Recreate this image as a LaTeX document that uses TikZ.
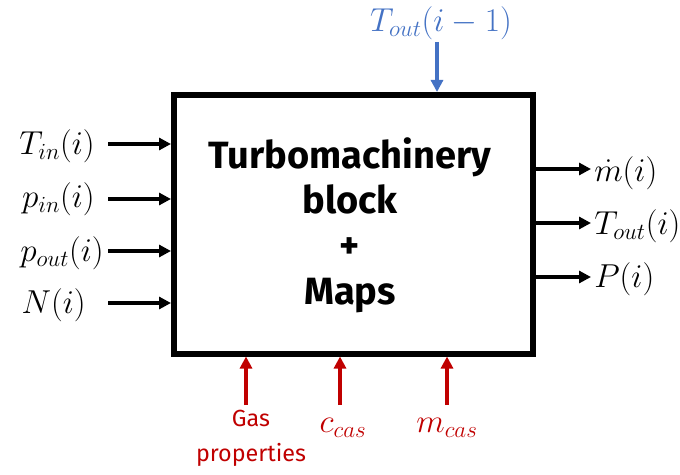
\documentclass[tikz,border=0pt]{standalone}
\usepackage{fontspec}
\setsansfont{Fira Sans}
\usetikzlibrary{arrows.meta}
\definecolor{myblue}{HTML}{4472C4}
\definecolor{myred}{HTML}{C00000}
\newcommand{\redtxtfont}{\sffamily\fontsize{17.5}{26}\selectfont}
\tikzset{
  inarr/.style={line width=3pt,-{Triangle[length=9pt,width=9pt]}},
  lbl/.style={inner sep=0pt,font=\fontsize{24}{28}\selectfont},
  redlbl/.style={inner sep=0pt,font=\redtxtfont,text=myred,align=center},
}
\begin{document}
\begin{tikzpicture}[x=0.75pt,y=-0.75pt]
\useasboundingbox (0,0) rectangle (680,474);
\node[draw,line width=4.4pt,minimum width=269pt,minimum height=194pt,inner sep=0pt,anchor=north west] (box) at (171,92) {};
\node[font=\sffamily\bfseries\fontsize{28.5}{34}\selectfont,align=center] (title) at (350,225) {Turbomachinery\\block\\+\\Maps};
% left inputs
\coordinate (l1) at (108,144); \coordinate (l2) at (108,199); \coordinate (l3) at (108,251); \coordinate (l4) at (108,303);
\node[lbl,anchor=east] (tin) at (95,146) {$T_{in}(i)$};
\node[lbl,anchor=east] (pin) at (95,199) {$p_{in}(i)$};
\node[lbl,anchor=east] (pout) at (104,253) {$p_{out}(i)$};
\node[lbl,anchor=east] (N) at (86,305) {$N(i)$};
\draw[inarr] (l1) -- (l1 -| box.west);
\draw[inarr] (l2) -- (l2 -| box.west);
\draw[inarr] (l3) -- (l3 -| box.west);
\draw[inarr] (l4) -- (l4 -| box.west);
% right outputs
\coordinate (r1) at (591,169); \coordinate (r2) at (591,223); \coordinate (r3) at (591,277);
\node[lbl,anchor=west] (mdot) at (594,173) {$\dot m(i)$};
\node[lbl,anchor=west] (tout) at (594,226) {$T_{out}(i)$};
\node[lbl,anchor=west] (P) at (594,279) {$P(i)$};
\draw[inarr] (r1 -| box.east) -- (r1);
\draw[inarr] (r2 -| box.east) -- (r2);
\draw[inarr] (r3 -| box.east) -- (r3);
% top
\node[lbl,text=myblue] (tprev) at (441,23) {$T_{out}(i-1)$};
\coordinate (tp) at (437,42);
\draw[inarr,myblue] (tp) -- (tp |- box.north);
% bottom
\node[redlbl] (gas) at (251,438) {Gas\\properties};
\node[lbl,text=myred] (ccas) at (343,428) {$c_{cas}$};
\node[lbl,text=myred] (mcas) at (447,428) {$m_{cas}$};
\coordinate (b1) at (246,405); \coordinate (b2) at (340,405); \coordinate (b3) at (447,405);
\draw[inarr,myred] (b1) -- (b1 |- box.south);
\draw[inarr,myred] (b2) -- (b2 |- box.south);
\draw[inarr,myred] (b3) -- (b3 |- box.south);
\end{tikzpicture}
\end{document}
